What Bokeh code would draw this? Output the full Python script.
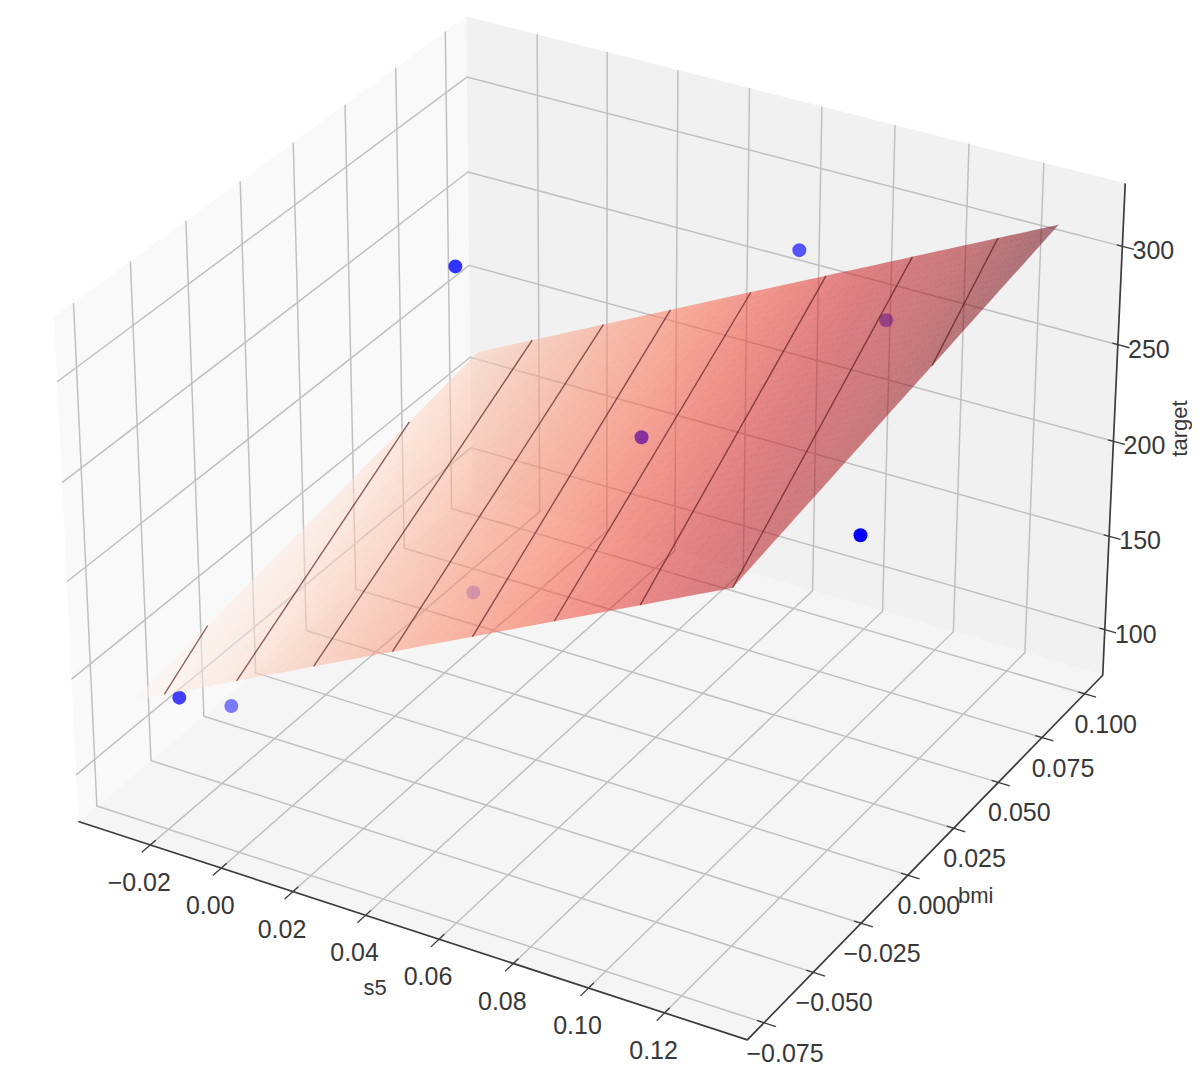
import numpy as np
from bokeh.plotting import figure
from bokeh.models import Range1d, ColumnDataSource
from bokeh.core.properties import value
from bokeh.embed import file_html
from bokeh.resources import INLINE

# ---- data ----
s5_values = [0.0177, 0.0749, 0.0858, 0.0775, 0.1302, -0.0010, -0.0179, -0.0283]
bmi_values = [0.0021, 0.0698, 0.0964, -0.0159, -0.0069, 0.0417, -0.0712, -0.0314]
target_values = [316, 298, 246, 277, 249, 103, 142, 94]

surface_s5 = [-0.0310, 0.1300]
surface_bmi = [-0.0711, 0.0984]
surface_target = [[133, 168], [281, 315]]   # [s5 index][bmi index]

seam_s5_start = [-0.0222, -0.0016, 0.0199, 0.0415, 0.0630, 0.0845, 0.1067, 0.1300, 0.1142]
seam_bmi_start = [-0.0711, -0.0711, -0.0711, -0.0711, -0.0711, -0.0711, -0.0711, -0.0711, 0.0984]
seam_s5_end = [-0.0310, -0.0310, -0.0151, 0.0056, 0.0248, 0.0474, 0.0681, 0.0915, 0.1300]
seam_bmi_end = [-0.0367, 0.0625, 0.0984, 0.0984, 0.0984, 0.0984, 0.0984, 0.0984, 0.0296]

s5_lim = [-0.0405, 0.1415]
bmi_lim = [-0.0834, 0.1107]
target_lim = [75.3, 331.6]

s5_ticks = [-0.02, 0.00, 0.02, 0.04, 0.06, 0.08, 0.10, 0.12]
s5_labels = ["\u22120.02", "0.00", "0.02", "0.04", "0.06", "0.08", "0.10", "0.12"]
bmi_ticks = [-0.075, -0.050, -0.025, 0.000, 0.025, 0.050, 0.075, 0.100]
bmi_labels = ["\u22120.075", "\u22120.050", "\u22120.025", "0.000", "0.025", "0.050", "0.075", "0.100"]
target_ticks = [100, 150, 200, 250, 300]
target_labels = ["100", "150", "200", "250", "300"]

REDS = ["#fff5f0", "#fee0d2", "#fcbba1", "#fc9272", "#fb6a4a", "#ef3b2c", "#cb181d", "#a50f15", "#67000d"]

# ---- matplotlib-style 3D view (elev 30, azim -60, dist 10) ----
BOX = np.array([1.190, 1.190, 0.8927])
U = np.array([0.8660, 0.5, 0.0])
V = np.array([-0.25, 0.4330, 0.8660])
W = np.array([0.4330, -0.75, 0.5])
DIST = 10.0
SCALE, TX, TY = 6440.0, 599.5, 503.0
WIDTH, HEIGHT = 1192, 1068


def box_coords(s, b, t):
    s, b, t = np.asarray(s, float), np.asarray(b, float), np.asarray(t, float)
    d = np.stack([(s - s5_lim[0]) / (s5_lim[1] - s5_lim[0]) - 0.5,
                  (b - bmi_lim[0]) / (bmi_lim[1] - bmi_lim[0]) - 0.5,
                  (t - target_lim[0]) / (target_lim[1] - target_lim[0]) - 0.5], axis=-1)
    return d * BOX


def project(s, b, t):
    d = box_coords(s, b, t)
    den = DIST - d @ W
    return (d @ U) / den, (d @ V) / den


def depth(s, b, t):
    return box_coords(s, b, t) @ W


def poly(points):
    a = np.array(points, float)
    return project(a[:, 0], a[:, 1], a[:, 2])


def reds(f):
    f = np.clip(f, 0, 1) * (len(REDS) - 1)
    i = min(int(f), len(REDS) - 2)
    r = f - i
    a = [int(REDS[i][k:k + 2], 16) for k in (1, 3, 5)]
    c = [int(REDS[i + 1][k:k + 2], 16) for k in (1, 3, 5)]
    return "#%02x%02x%02x" % tuple(int(round(p + (q - p) * r)) for p, q in zip(a, c))


def surface_z(s, b):
    u = (np.asarray(s, float) - surface_s5[0]) / (surface_s5[1] - surface_s5[0])
    v = (np.asarray(b, float) - surface_bmi[0]) / (surface_bmi[1] - surface_bmi[0])
    z = np.array(surface_target, float)
    return (1 - u) * (1 - v) * z[0, 0] + (1 - u) * v * z[0, 1] + u * (1 - v) * z[1, 0] + u * v * z[1, 1]


p = figure(width=WIDTH, height=HEIGHT, output_backend="svg", toolbar_location=None,
           x_range=Range1d((0 - TX) / SCALE, (WIDTH - TX) / SCALE),
           y_range=Range1d((TY - HEIGHT) / SCALE, (TY - 0) / SCALE),
           min_border=0, outline_line_color=None, background_fill_color="white")
p.axis.visible = False
p.grid.visible = False

x0, x1 = s5_lim
y0, y1 = bmi_lim
z0, z1 = target_lim

# panes
panes = [([(x0, y0, z0), (x0, y1, z0), (x0, y1, z1), (x0, y0, z1)], "#f9f9f9"),
         ([(x0, y1, z0), (x1, y1, z0), (x1, y1, z1), (x0, y1, z1)], "#f1f1f1"),
         ([(x0, y0, z0), (x1, y0, z0), (x1, y1, z0), (x0, y1, z0)], "#f5f5f5")]
for pts, col in panes:
    xs, ys = poly(pts)
    p.patch(list(xs), list(ys), fill_color=col, line_color=None)

# grid
grid_x, grid_y = [], []
for s in s5_ticks:
    a, b = poly([(s, y0, z0), (s, y1, z0), (s, y1, z1)])
    grid_x.append(list(a)); grid_y.append(list(b))
for m in bmi_ticks:
    a, b = poly([(x0, m, z1), (x0, m, z0), (x1, m, z0)])
    grid_x.append(list(a)); grid_y.append(list(b))
for t in target_ticks:
    a, b = poly([(x1, y1, t), (x0, y1, t), (x0, y0, t)])
    grid_x.append(list(a)); grid_y.append(list(b))
p.multi_line(grid_x, grid_y, line_color="#c0c0c0", line_width=1.5)

# points, depth-shaded
dz = depth(s5_values, bmi_values, target_values)
alphas = 0.3 + 0.7 * (dz - dz.min()) / (dz.max() - dz.min())
px, py = project(s5_values, bmi_values, target_values)
p.scatter(x="x", y="y", size=14, fill_color="#0000ff", fill_alpha="a", line_color=None,
          source=ColumnDataSource(dict(x=px, y=py, a=alphas)))

# surface
N = 46
su = np.array([surface_s5[0] + (surface_s5[1] - surface_s5[0]) * i / N for i in range(N + 1)])
sv = np.array([surface_bmi[0] + (surface_bmi[1] - surface_bmi[0]) * i / N for i in range(N + 1)])
allz = np.array(surface_target, float)
qx, qy, qc = [], [], []
for i in range(N):
    for j in range(N):
        ss = [su[i], su[i + 1], su[i + 1], su[i]]
        bb = [sv[j], sv[j], sv[j + 1], sv[j + 1]]
        zz = surface_z(ss, bb)
        a, b = project(ss, bb, zz)
        qx.append(list(a)); qy.append(list(b))
        qc.append(reds((zz.mean() - allz.min()) / (allz.max() - allz.min())))
p.patches(qx, qy, fill_color=qc, fill_alpha=0.52, line_color=qc, line_alpha=0.12, line_width=0.5)

# dark seams on the surface
sx, sy = [], []
for s_a, b_a, s_b, b_b in zip(seam_s5_start, seam_bmi_start, seam_s5_end, seam_bmi_end):
    ss = np.array([s_a, s_b]); bb = np.array([b_a, b_b])
    a, b = project(ss, bb, surface_z(ss, bb))
    sx.append(list(a)); sy.append(list(b))
p.multi_line(sx, sy, line_color="#561a20", line_alpha=0.68, line_width=1.4)

# axis lines
ax, ay = poly([(x0, y0, z0), (x1, y0, z0), (x1, y1, z0), (x1, y1, z1)])
p.line(list(ax), list(ay), line_color="#3c3c3c", line_width=1.7)

# ticks
tx_, ty_ = [], []
ry = y1 - y0; rx = x1 - x0
for s in s5_ticks:
    a, b = poly([(s, y0 + 0.013 * ry, z0), (s, y0 - 0.02 * ry, z0)])
    tx_.append(list(a)); ty_.append(list(b))
for m in bmi_ticks:
    a, b = poly([(x1 - 0.01 * rx, m, z0), (x1 + 0.017 * rx, m, z0)])
    tx_.append(list(a)); ty_.append(list(b))
for t in target_ticks:
    a, b = poly([(x1 - 0.008 * rx, y1, t), (x1 + 0.017 * rx, y1, t)])
    tx_.append(list(a)); ty_.append(list(b))
p.multi_line(tx_, ty_, line_color="#3c3c3c", line_width=1.3)

FONT = value("Liberation Sans")
def labels(s, b, t, text, dx, dy, size="25px", angle=0.0):
    a, c = project(s, b, t)
    p.text(x=np.atleast_1d(a), y=np.atleast_1d(c), text=text, x_offset=dx, y_offset=dy,
           angle=angle, text_font=FONT, text_font_size=size, text_color="#383838",
           text_align="center", text_baseline="middle")

labels(s5_ticks, [y0] * 8, [z0] * 8, s5_labels, -11, 37)
labels([x1] * 8, bmi_ticks, [z0] * 8, bmi_labels, 21, 30)
labels([x1] * 5, [y1] * 5, target_ticks, target_labels, 31, 4)
labels([0.05], [y0], [z0], ["s5"], -27, 60, size="22px")
labels([x1], [0.014], [z0], ["bmi"], 42, 47, size="22px")
labels([x1], [y1], [203.0], ["target"], 66, -7, size="22px", angle=np.pi / 2)

open("out.html", "w").write(file_html(p, INLINE))
